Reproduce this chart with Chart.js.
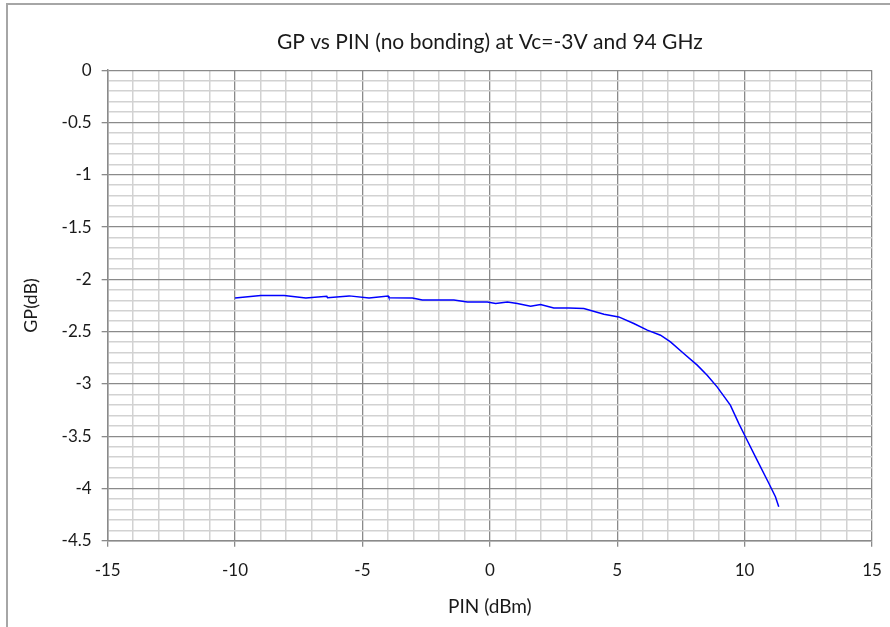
<!DOCTYPE html>
<html>
<head>
<meta charset="utf-8">
<script src="https://cdn.jsdelivr.net/npm/chart.js@4.4.1/dist/chart.umd.min.js"></script>
<style>
    html, body { margin: 0; padding: 0; background: #ffffff; }
    #wrap { width: 890px; height: 627px; position: relative; }
</style>
</head>
<body>
<div id="wrap"><canvas id="gpChart" width="890" height="627"></canvas></div>
<script>
// PIN (dBm)
const pinValues = [
    -10, -8.99, -8.07, -7.22, -6.4, -6.37, -5.52, -4.74, -3.99, -3.96,
    -3.04, -2.65, -1.41, -0.88, -0.10, 0.23, 0.69, 1.08, 1.60, 1.99,
    2.51, 3.10, 3.69, 4.48, 5.06, 5.65, 6.18, 6.70, 7.09, 7.61,
    8.14, 8.53, 8.92, 9.44, 9.77, 10.03, 10.49, 10.95, 11.21, 11.34,
];
// GP (dB)
const gpValues = [
    -2.178, -2.155, -2.155, -2.178, -2.162, -2.175, -2.158, -2.178, -2.160, -2.175,
    -2.178, -2.197, -2.197, -2.216, -2.216, -2.23, -2.216, -2.23, -2.257, -2.24,
    -2.273, -2.273, -2.279, -2.333, -2.359, -2.422, -2.486, -2.534, -2.598, -2.709,
    -2.82, -2.916, -3.028, -3.203, -3.377, -3.505, -3.728, -3.95, -4.078, -4.174,
];
const xMajorTicks = [-15, -10, -5, 0, 5, 10, 15];
const yMajorTicks = [0, -0.5, -1, -1.5, -2, -2.5, -3, -3.5, -4, -4.5];

const fontFamily = "Lato, 'Open Sans', sans-serif";
const textColor = "#1a1a1a";
const majorGrid = "#8a8a8a";
const minorGrid = "#d2d2d2";

const isMajorX = (v) => xMajorTicks.some((t) => Math.abs(t - v) < 1e-6);
const isMajorY = (v) => yMajorTicks.some((t) => Math.abs(t - v) < 1e-6);

const framePlugin = {
    id: "frame",
    beforeDraw(chart) {
        const ctx = chart.ctx;
        ctx.save();
        ctx.fillStyle = "#ffffff";
        ctx.fillRect(0, 0, chart.width, chart.height);
        ctx.strokeStyle = "#a6a6a6";
        ctx.lineWidth = 2;
        ctx.beginPath();
        ctx.moveTo(7, chart.height);
        ctx.lineTo(7, 4);
        ctx.lineTo(chart.width, 4);
        ctx.stroke();
        ctx.restore();
    },
};

const points = pinValues.map((x, i) => ({ x: x, y: gpValues[i] }));

new Chart(document.getElementById("gpChart").getContext("2d"), {
    type: "line",
    data: {
        datasets: [
            {
                label: "GP",
                data: points,
                borderColor: "#0000ff",
                borderWidth: 1.5,
                pointRadius: 0,
                tension: 0,
                fill: false,
            },
        ],
    },
    options: {
        responsive: false,
        animation: false,
        layout: { padding: { left: 20, right: 18, top: 30, bottom: 9 } },
        plugins: {
            legend: { display: false },
            tooltip: { enabled: false },
            title: {
                display: true,
                fullSize: false,
                text: "GP vs PIN (no bonding) at Vc=-3V and 94 GHz",
                color: textColor,
                font: { family: fontFamily, size: 21, weight: "normal" },
                padding: { top: 0, bottom: 15 },
            },
        },
        scales: {
            x: {
                type: "linear",
                min: -15,
                max: 15,
                afterFit: (scale) => {
                    // keep the end labels from pushing the plot area inwards
                    scale.paddingLeft = 0;
                    scale.paddingRight = 0;
                },
                ticks: {
                    stepSize: 1,
                    autoSkip: false,
                    maxRotation: 0,
                    color: textColor,
                    font: { family: fontFamily, size: 17 },
                    padding: 14,
                    callback: (v) => (isMajorX(v) ? String(Math.round(v)) : ""),
                },
                grid: {
                    color: (c) => (isMajorX(c.tick.value) ? majorGrid : minorGrid),
                    lineWidth: (c) => (isMajorX(c.tick.value) ? 1.3 : 1.5),
                    tickColor: (c) => (isMajorX(c.tick.value) ? majorGrid : "rgba(0,0,0,0)"),
                    tickLength: 6,
                },
                border: { color: majorGrid, width: 1.5 },
                title: {
                    display: true,
                    text: "PIN (dBm)",
                    color: textColor,
                    font: { family: fontFamily, size: 19 },
                    padding: { top: 0, bottom: 0 },
                },
            },
            y: {
                type: "linear",
                min: -4.5,
                max: 0,
                ticks: {
                    stepSize: 0.1,
                    autoSkip: false,
                    color: textColor,
                    font: { family: fontFamily, size: 17 },
                    padding: 10,
                    callback: (v) => (isMajorY(v) ? String(Math.round(v * 10) / 10) : ""),
                },
                grid: {
                    color: (c) => (isMajorY(c.tick.value) ? majorGrid : minorGrid),
                    lineWidth: (c) => (isMajorY(c.tick.value) ? 1.3 : 1.5),
                    tickColor: (c) => (isMajorY(c.tick.value) ? majorGrid : "rgba(0,0,0,0)"),
                    tickLength: 6,
                },
                border: { color: majorGrid, width: 1.5 },
                title: {
                    display: true,
                    text: "GP(dB)",
                    color: textColor,
                    font: { family: fontFamily, size: 18 },
                    padding: { top: 0, bottom: 10 },
                },
            },
        },
    },
    plugins: [framePlugin],
});
</script>
</body>
</html>
